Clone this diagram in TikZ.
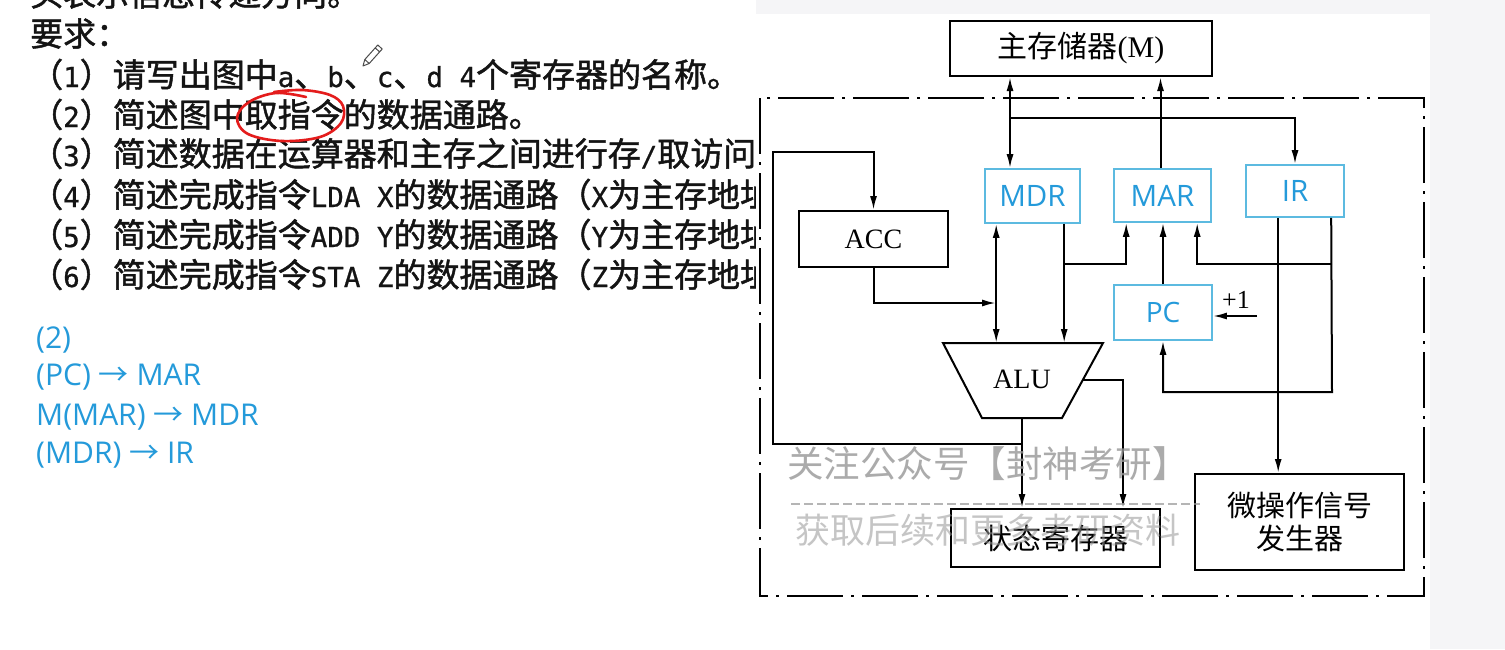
\documentclass[tikz,border=0pt]{standalone}
\usepackage{fontspec}
\setmainfont{Liberation Serif}
\newfontfamily\cjk{Noto Sans CJK SC}
\newfontfamily\cjkheavy[FakeBold=1.4]{Noto Sans CJK SC}
\newfontfamily\hwfont[FakeBold=0.8]{DejaVu Sans Mono}
\newfontfamily\uifont{Open Sans}
\usetikzlibrary{arrows.meta}
\definecolor{regblue}{RGB}{36,154,218}
\definecolor{regedge}{RGB}{92,186,224}
\definecolor{inkred}{RGB}{228,28,28}
\definecolor{panelgray}{RGB}{245,245,247}
\definecolor{wmgray}{RGB}{150,150,150}
% half-width Latin letters and digits inside the Chinese lines
\newcommand\hw[1]{{\hwfont\fontsize{27.5}{33}\selectfont #1}}

\begin{document}
\begin{tikzpicture}[x=1pt,y=-1pt,
  box/.style={draw=black, line width=2pt, inner sep=0pt, align=center,
              font=\cjk\fontsize{29}{33}\selectfont},
  latinbox/.style={box, font=\rmfamily\fontsize{28}{33}\selectfont},
  reg/.style={draw=regedge, line width=1.6pt, inner sep=0pt, text=regblue,
              font=\uifont\fontsize{29.5}{33}\selectfont},
  wire/.style={line width=2pt},
  arr/.style={wire, -{Latex[length=14pt,width=7pt]}},
  darr/.style={wire, {Latex[length=14pt,width=7pt]}-{Latex[length=14pt,width=7pt]}},
  qline/.style={anchor=base west, inner sep=0pt, text=black!92,
                font=\cjkheavy\fontsize{33}{40}\selectfont},
  ans/.style={anchor=base west, inner sep=0pt, text=regblue,
              font=\uifont\fontsize{30}{36}\selectfont},
  wm/.style={inner sep=0pt, text=wmgray, opacity=0.8,
             font=\cjk\fontsize{36.5}{40}\selectfont},
]
\useasboundingbox (0,0) rectangle (1505,649);
\fill[white] (0,0) rectangle (1505,649);

% ---------------- question text ----------------
\node[qline] (q0) at (30,6) {头表示信息传递方向。};
\node[qline] (q1) at (30,46) {要求：};
\node[qline] (q2) at (30,87) {（\hw{1}）请写出图中\hw{a}、\hw{b}、\hw{c}、\hw{d 4}个寄存器的名称。};
\node[qline] (q3) at (30,127) {（\hw{2}）简述图中取指令的数据通路。};
\node[qline] (q4) at (30,166) {（\hw{3}）简述数据在运算器和主存之间进行存\hw{/}取访问的数据通路。};
\node[qline] (q5) at (30,207) {（\hw{4}）简述完成指令\hw{LDA X}的数据通路（\hw{X}为主存地址）。};
\node[qline] (q6) at (30,247) {（\hw{5}）简述完成指令\hw{ADD Y}的数据通路（\hw{Y}为主存地址）。};
\node[qline] (q7) at (30,287) {（\hw{6}）简述完成指令\hw{STA Z}的数据通路（\hw{Z}为主存地址）。};

% hand-drawn red loop around the highlighted words
\draw[inkred, line width=2.6pt, line cap=round]
  plot[smooth, tension=0.6] coordinates {(306,97) (276,93) (249,102) (237,118) (248,134)
    (282,141) (320,137) (341,123) (343,106) (330,95) (302,90) (274,92)};

% pencil cursor
\draw[black!70, line width=1pt, line join=round]
  (363,66) -- (369.2,63.5) -- (382.2,49) -- (377.8,45) -- (364.8,59.5) -- cycle
  (369.2,63.5) -- (364.8,59.5)
  (379.6,51.9) -- (375.2,47.9);

% ---------------- answer text ----------------
\node[ans] (a0) at (36,348) {(2)};
\node[ans] (a1) at (36,385) {(PC) {\cjk →} MAR};
\node[ans] (a2) at (36,425) {M(MAR) {\cjk →} MDR};
\node[ans] (a3) at (36,463) {(MDR) {\cjk →} IR};

% ---------------- diagram panel ----------------
\fill[white] (756,14) rectangle (1430,649);
\fill[panelgray] (756,0) rectangle (1505,14);
\fill[panelgray] (1430,0) rectangle (1505,649);

\draw[line width=2pt, dash pattern=on 56pt off 8pt on 3pt off 8pt]
  (760,98) rectangle (1424,596);

\node[box, minimum width=262pt, minimum height=55pt, font=\cjk\fontsize{30}{33}\selectfont] (mem) at (1081,48.5) {主存储器\textrm{(M)}};
\node[reg, minimum width=95pt, minimum height=54pt] (mdr) at (1032.5,196) {MDR};
\node[reg, minimum width=97pt, minimum height=53pt] (mar) at (1162.5,195.5) {MAR};
\node[reg, minimum width=98pt, minimum height=52pt] (ir) at (1295,191) {IR};
\node[latinbox, minimum width=149pt, minimum height=56pt] (acc) at (873.5,239) {ACC};
\node[reg, minimum width=98pt, minimum height=55pt, font=\uifont\fontsize{28}{33}\selectfont] (pc) at (1163,312.5) {PC};
\node[box, minimum width=209pt, minimum height=58pt] (st) at (1055.5,538) {状态寄存器};
\node[box, minimum width=209pt, minimum height=96pt, font=\cjk\fontsize{29}{33}\selectfont] (mic) at (1299.5,522) {微操作信号\\发生器};

% ALU
\coordinate (aluTL) at (943,343);
\coordinate (aluTR) at (1103,343);
\coordinate (aluBR) at (1062,418);
\coordinate (aluBL) at (982,418);
\draw[wire, line join=miter] (aluTL) -- (aluTR) -- (aluBR) -- (aluBL) -- cycle;
\node[inner sep=0pt, font=\rmfamily\fontsize{28}{33}\selectfont] (alu) at (1022,379) {ALU};

% junctions and bends
\coordinate (j1) at (1011,118);
\coordinate (j2) at (1065,264);
\coordinate (j3) at (1332,392);
\coordinate (j4) at (1332,264);
\coordinate (aluB) at (1022,418);
\coordinate (aluR) at (1083,380);
\coordinate (fbk) at (1022,444);
\coordinate (fbl) at (773,152);
\coordinate (accj) at (996,303);
\coordinate (incsrc) at (1257,316);

% memory bus
\draw[darr] ([xshift=61pt]mem.south west) -- ([xshift=61pt]mem.south west |- mdr.north);
\draw[arr] (j1) -| (ir.north);
\draw[arr] ([xshift=-2pt]mar.north) -- ([xshift=-2pt]mar.north |- mem.south);

% MDR / ALU / ACC
\draw[darr] ([xshift=12pt]mdr.south west) -- ([xshift=12pt]mdr.south west |- aluTL);
\draw[arr] ([xshift=80pt]mdr.south west) -- ([xshift=80pt]mdr.south west |- aluTL);
\draw[arr] (j2) -| ([xshift=13pt]mar.south west);
\draw[arr] (acc.south) |- (accj);
\draw[arr] (aluB) -- (aluB |- st.north);
\draw[arr] (fbk) -| (fbl) -| (acc.north);
\draw[arr] (aluR) -| ([xshift=173pt]st.north west);

% PC and IR
\draw[arr] (pc.north) -- (pc.north |- mar.south);
\draw[arr] ([xshift=33pt]ir.south west) -- ([xshift=33pt]ir.south west |- mic.north);
\draw[arr] ([xshift=86pt]ir.south west) -- (j3) -| (pc.south);
\draw[arr] (j4) -| ([xshift=84pt]mar.south west);
\draw[arr] (incsrc) -- (incsrc -| pc.east);
\node[inner sep=0pt, font=\rmfamily\fontsize{26}{30}\selectfont] (inc) at (1236,300) {+1};

% watermark
\node[wm] (wm1) at (988,464) {关注公众号【封神考研】};
\draw[wmgray, opacity=0.7, line width=1.3pt, dash pattern=on 9pt off 4pt] (791,504) -- (1200,504);
\node[wm, opacity=0.55, font=\cjk\fontsize{35}{40}\selectfont] (wm2) at (988,530) {获取后续和更多考研资料};
\end{tikzpicture}
\end{document}
